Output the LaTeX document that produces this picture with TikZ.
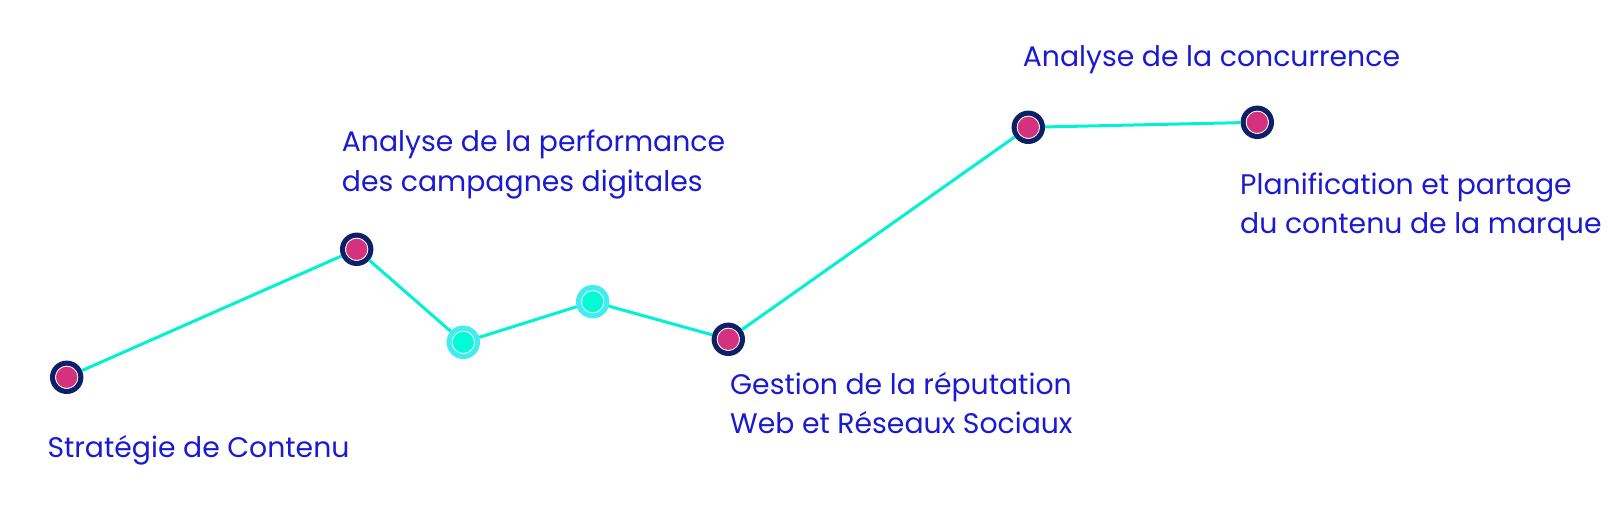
\documentclass[tikz,border=0pt]{standalone}
\usepackage{fontspec}
\setmainfont{Poppins}
\definecolor{txtblue}{HTML}{1A1AD2}
\definecolor{linecyan}{HTML}{00F2D2}
\definecolor{dotpink}{HTML}{D4317F}
\definecolor{dotnavy}{HTML}{0B2066}
\definecolor{ringcyan}{HTML}{40EEF2}
\definecolor{fillcyan}{HTML}{00FCD6}
\begin{document}
\begin{tikzpicture}[x=1pt,y=-1pt,
  dotbase/.style={circle, inner sep=0pt, line width=5pt, minimum size=28.4pt,
    path picture={\draw[white,line width=1.1pt] (path picture bounding box.center) circle (11.3pt);}},
  pinkdot/.style={dotbase, draw=dotnavy, fill=dotpink},
  cyandot/.style={dotbase, draw=ringcyan, fill=fillcyan},
  link/.style={draw=linecyan, line width=3pt},
  lbl/.style={anchor=base west, inner sep=0pt, text=txtblue, font=\fontsize{28.3}{32}\selectfont}]
\useasboundingbox[fill=white] (0,0) rectangle (1615,510);
\node[pinkdot] (p1) at (66.7,377.3) {};
\node[pinkdot] (p2) at (356.7,249.3) {};
\node[cyandot] (p3) at (463.3,342.3) {};
\node[cyandot] (p4) at (592.7,301.7) {};
\node[pinkdot] (p5) at (728.3,339.3) {};
\node[pinkdot] (p6) at (1028.3,127.3) {};
\node[pinkdot] (p7) at (1257.3,122.3) {};
\draw[link] (p1) -- (p2);
\draw[link] (p2) -- (p3);
\draw[link] (p3) -- (p4);
\draw[link] (p4) -- (p5);
\draw[link] (p5) -- (p6);
\draw[link] (p6) -- (p7);
\node[lbl] (t1) at (47.3,457.3) {Stratégie de Contenu};
\node[lbl] (t2a) at (341.7,151.7) {Analyse de la performance};
\node[lbl] (t2b) at (341.7,191.7) {des campagnes digitales};
\node[lbl] (t5a) at (730,394.3) {Gestion de la réputation};
\node[lbl] (t5b) at (730,434) {Web et Réseaux Sociaux};
\node[lbl] (t6) at (1022.7,66.7) {Analyse de la concurrence};
\node[lbl] (t7a) at (1240,194.3) {Planification et partage};
\node[lbl] (t7b) at (1240,234) {du contenu de la marque};
\end{tikzpicture}
\end{document}
